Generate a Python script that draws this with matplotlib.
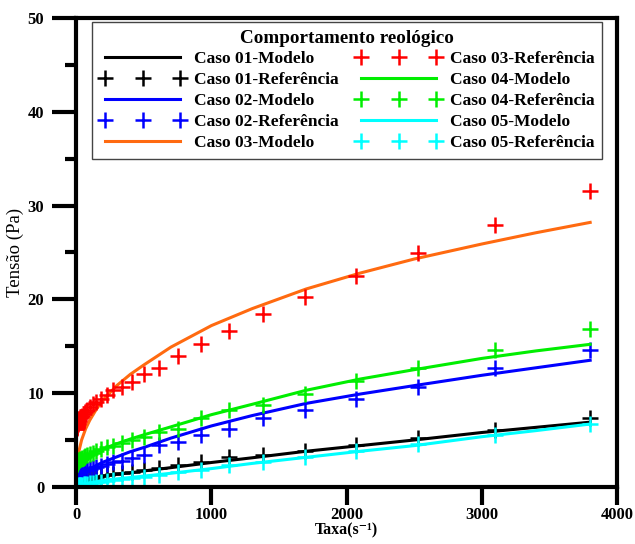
import matplotlib
matplotlib.use("Agg")
import matplotlib.pyplot as plt
from matplotlib.ticker import MultipleLocator

plt.rcParams['font.family'] = ['Liberation Serif', 'DejaVu Serif']
plt.rcParams['font.weight'] = 'bold'

# shear rates of the reference (measured) points
taxa_ref = [3800, 3100, 2530, 2070, 1690, 1380, 1130, 920, 750, 615, 500, 410, 335, 275,
            225, 183, 150, 122, 100, 82, 67, 55, 45, 37, 30, 24, 20, 16, 13, 11, 9, 7,
            6, 5, 4, 3, 2.5, 2, 1.5, 1]
# shear rates used for the model curves
taxa_mod = [0, 1, 2, 5, 10, 20, 40, 70, 100, 150, 200, 300, 400, 500, 700, 1000, 1300,
            1700, 2100, 2500, 3000, 3400, 3800]

ref01 = [7.3, 6.07, 5.2, 4.46, 3.8, 3.4, 3.2, 2.7, 2.3, 2.0, 1.8, 1.6, 1.5, 1.4, 1.3, 1.2,
         1.1, 1.0, 0.95, 0.9, 0.85, 0.8, 0.75, 0.7, 0.65, 0.6, 0.55, 0.5, 0.45, 0.4, 0.4,
         0.35, 0.3, 0.3, 0.25, 0.2, 0.2, 0.15, 0.1, 0.1]
ref02 = [14.6, 12.7, 10.7, 9.35, 8.2, 7.3, 6.2, 5.5, 4.8, 4.45, 3.4, 3.1, 2.8, 2.6, 2.4,
         2.25, 2.1, 2.0, 1.9, 1.85, 1.8, 1.75, 1.7, 1.7, 1.65, 1.6, 1.6, 1.55, 1.55, 1.5,
         1.5, 1.5, 1.45, 1.45, 1.4, 1.4, 1.4, 1.35, 1.35, 1.3]
ref03 = [31.6, 27.9, 24.9, 22.5, 20.2, 18.4, 16.6, 15.2, 14.0, 12.7, 12.0, 11.2, 10.7,
         10.3, 9.8, 9.4, 9.1, 8.8, 8.5, 8.2, 8.0, 7.8, 7.6, 7.4, 7.3, 7.1, 7.0, 6.9, 6.8,
         6.7, 6.6, 6.6, 6.5, 6.5, 6.4, 6.4, 6.3, 6.3, 6.2, 6.2]
ref04 = [16.8, 14.6, 12.7, 11.3, 9.9, 8.7, 8.2, 7.3, 6.2, 5.8, 5.3, 5.0, 4.7, 4.4, 4.2,
         4.0, 3.8, 3.6, 3.5, 3.4, 3.3, 3.2, 3.1, 3.0, 2.95, 2.9, 2.85, 2.8, 2.75, 2.7,
         2.65, 2.6, 2.55, 2.5, 2.5, 2.45, 2.4, 2.4, 2.35, 2.3]
ref05 = [6.7, 5.5, 4.6, 3.8, 3.2, 2.7, 2.3, 1.8, 1.6, 1.3, 1.1, 0.95, 0.85, 0.75, 0.65,
         0.55, 0.5, 0.45, 0.4, 0.35, 0.3, 0.3, 0.25, 0.2, 0.2, 0.15, 0.15, 0.1, 0.1, 0.1,
         0.05, 0.05, 0.05, 0.0, 0.0, 0.0, 0.0, 0.0, 0.0, 0.0]

mod01 = [0.1, 0.15, 0.2, 0.25, 0.3, 0.4, 0.55, 0.7, 0.85, 1.0, 1.15, 1.35, 1.5, 1.7, 2.05,
         2.6, 3.1, 3.8, 4.4, 5.0, 5.8, 6.35, 6.9]
mod02 = [0.6, 0.7, 0.75, 0.85, 0.95, 1.1, 1.35, 1.65, 1.9, 2.3, 2.65, 3.2, 3.75, 4.2, 5.2,
         6.5, 7.6, 8.9, 9.9, 10.8, 11.9, 12.7, 13.5]
mod03 = [None, None, None, 2.2, 2.9, 3.8, 5.0, 6.2, 7.1, 8.3, 9.3, 10.8, 12.0, 13.0, 14.9,
         17.2, 19.0, 21.1, 22.8, 24.3, 25.9, 27.1, 28.2]
mod04 = [2.3, 2.35, 2.4, 2.5, 2.6, 2.75, 2.95, 3.2, 3.4, 3.75, 4.05, 4.6, 5.1, 5.55, 6.4,
         7.7, 8.8, 10.3, 11.5, 12.5, 13.7, 14.5, 15.2]
mod05 = [0.0, 0.02, 0.03, 0.06, 0.1, 0.15, 0.22, 0.32, 0.4, 0.55, 0.7, 0.85, 1.0, 1.15,
         1.45, 1.95, 2.5, 3.15, 3.8, 4.4, 5.35, 6.0, 6.7]

fig = plt.figure(figsize=(6.35, 5.44), dpi=100)
ax = fig.add_axes([0.12, 0.105, 0.852, 0.862])

lw = 2.2
mk = dict(linestyle='none', marker='+', markersize=12, markeredgewidth=1.8)

ax.plot(taxa_mod, mod01, color='black', lw=lw, label='Caso 01-Modelo')
ax.plot(taxa_ref, ref01, color='black', label='Caso 01-Referência', **mk)
ax.plot(taxa_mod, mod02, color='#0000ff', lw=lw, label='Caso 02-Modelo')
ax.plot(taxa_ref, ref02, color='#0000ff', label='Caso 02-Referência', **mk)
x3 = [x for x, y in zip(taxa_mod, mod03) if y is not None]
y3 = [y for y in mod03 if y is not None]
ax.plot(x3, y3, color='#ff6a10', lw=lw, label='Caso 03-Modelo')
ax.plot(taxa_ref, ref03, color='#ff0000', label='Caso 03-Referência', **mk)
ax.plot(taxa_mod, mod04, color='#00ee00', lw=lw, label='Caso 04-Modelo')
ax.plot(taxa_ref, ref04, color='#00ee00', label='Caso 04-Referência', **mk)
ax.plot(taxa_mod, mod05, color='#00ffff', lw=lw, label='Caso 05-Modelo')
ax.plot(taxa_ref, ref05, color='#00ffff', label='Caso 05-Referência', **mk)

ax.set_xlim(0, 4000)
ax.set_ylim(0, 50)
ax.yaxis.set_major_locator(MultipleLocator(10))
ax.yaxis.set_minor_locator(MultipleLocator(5))

for s in ax.spines.values():
    s.set_linewidth(3)
ax.tick_params(axis='both', which='major', width=3, labelsize=12, direction='out')
ax.tick_params(axis='y', which='major', length=17, pad=6)
ax.tick_params(axis='x', which='major', length=13, pad=1.5)
ax.tick_params(axis='y', which='minor', width=3, length=8)
ax.set_xticks([0, 1000, 2000, 3000, 4000])
ax.set_xticklabels(['0', '1000', '2000', '3000', '4000'], fontweight='bold')

ax.set_xlabel('Taxa(s\u207b\u00b9)', fontsize=11.5, fontweight='bold')
ax.xaxis.set_label_coords(0.5, -0.076)
ax.set_ylabel('Tensão (Pa)', fontsize=13.5, fontweight='normal')
ax.yaxis.set_label_coords(-0.097, 0.5)

leg = ax.legend(loc='upper left', bbox_to_anchor=(0.03, 0.992), ncol=2, numpoints=3,
                handlelength=4.9, columnspacing=1.0, handletextpad=0.5,
                labelspacing=0.27, borderaxespad=0, borderpad=0.45, fancybox=False,
                edgecolor='#444444', framealpha=1,
                title='Comportamento reológico',
                prop={'weight': 'bold', 'size': 12.5},
                title_fontproperties={'weight': 'bold', 'size': 13.8})
leg.get_frame().set_linewidth(1.0)

fig.savefig('out.png', dpi=100)
